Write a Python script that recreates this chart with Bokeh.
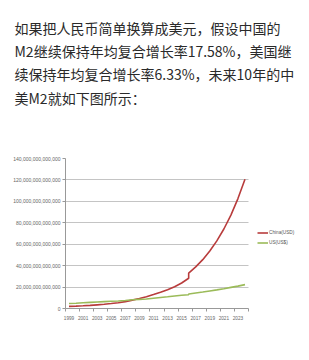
from bokeh.plotting import figure
from bokeh.models import (Range1d, FixedTicker, NumeralTickFormatter, Legend, LegendItem,
                          ColumnDataSource, Title)
from bokeh.embed import file_html
from bokeh.resources import INLINE

# ---- data (USD) ----
years = [1999, 2000, 2001, 2002, 2003, 2004, 2005, 2006, 2007, 2008, 2009, 2010,
         2011, 2012, 2013, 2014, 2015, 2016, 2016, 2017, 2018, 2019, 2020, 2021,
         2022, 2023, 2024]
china_usd = [2.0, 2.2, 2.5, 2.9, 3.4, 3.9, 4.6, 5.4, 6.4, 7.8, 9.3, 11.0,
             13.0, 15.1, 17.6, 20.3, 23.8, 28.2, 33.0, 38.8, 45.6, 53.6, 63.1, 74.2,
             87.2, 102.6, 120.6]
us_usd = [4.6, 4.9, 5.3, 5.7, 6.1, 6.4, 6.7, 7.0, 7.5, 8.1, 8.5, 8.8,
          9.6, 10.3, 10.9, 11.6, 12.3, 12.9, 13.6, 14.5, 15.4, 16.4, 17.4, 18.5,
          19.7, 20.9, 22.3]
series_names = ["China(USD)", "US(US$)"]
y_ticks = [0, 20, 40, 60, 80, 100, 120, 140]  # trillions
x_labels = [1999, 2001, 2003, 2005, 2007, 2009, 2011, 2013, 2015, 2017, 2019, 2021, 2023]

text_lines = [
    "如果把人民币简单换算成美元，假设中国的",
    "M2继续保持年均复合增长率17.58%，美国继",
    "续保持年均复合增长率6.33%，未来10年的中",
    "美M2就如下图所示：",
]

TR = 1e12
X0, X1 = 1998.5, 2024.5          # category span of the axis
PX_PER_YEAR = 183 / (X1 - X0)
X_END = X0 + 244 / PX_PER_YEAR   # frame runs to the right edge so the legend fits inside

p = figure(width=309, height=360, output_backend="svg", toolbar_location=None,
           x_range=Range1d(X0, X_END), y_range=Range1d(0, 140 * TR),
           min_border_left=65, min_border_right=0, min_border_top=158,
           min_border_bottom=52, outline_line_color=None)

src = ColumnDataSource(dict(x=years, c=[v * TR for v in china_usd], u=[v * TR for v in us_usd]))
r1 = p.line("x", "c", source=src, line_color="#b83c3c", line_width=1.6)
r2 = p.line("x", "u", source=src, line_color="#9bbb59", line_width=1.6)

p.xgrid.visible = False
p.ygrid.ticker = FixedTicker(ticks=[v * TR for v in y_ticks])
p.ygrid.grid_line_color = "#c4c4c4"
p.ygrid.grid_line_width = 1
p.ygrid.cross_bounds = (X0, X1)

p.yaxis.ticker = FixedTicker(ticks=[v * TR for v in y_ticks])
p.yaxis.formatter = NumeralTickFormatter(format="0,0")
p.xaxis.ticker = FixedTicker(ticks=x_labels,
                             minor_ticks=[X0 + 2 * i for i in range(14)])
p.xaxis.bounds = (X0, X1)
p.xaxis.major_tick_line_color = None
p.xaxis.major_tick_in = 0
p.xaxis.major_tick_out = 0
p.xaxis.minor_tick_in = 0
p.xaxis.minor_tick_out = 3
p.xaxis.minor_tick_line_color = "#999999"
p.yaxis.minor_tick_line_color = None
p.yaxis.major_tick_in = 0
p.yaxis.major_tick_out = 3
p.yaxis.major_tick_line_color = "#999999"
for ax in (p.xaxis, p.yaxis):
    ax.axis_line_color = "#999999"
    ax.major_label_text_font = "Liberation Sans"
    ax.major_label_text_color = "#666666"
p.yaxis.major_label_text_font_size = "5px"
p.yaxis.major_label_standoff = 2
p.xaxis.major_label_text_font_size = "4.7px"
p.xaxis.major_label_standoff = 4

legend = Legend(items=[LegendItem(label=series_names[0], renderers=[r1]),
                       LegendItem(label=series_names[1], renderers=[r2])],
                location=(192, 62), orientation="vertical",
                glyph_width=11, glyph_height=7, label_height=7, label_standoff=1,
                spacing=3, padding=0, margin=0, border_line_color=None,
                background_fill_alpha=0, label_text_font="Liberation Sans",
                label_text_font_size="4.7px", label_text_color="#555555")
p.add_layout(legend)

# two blank lines at the end keep the paragraph near the top of the page
title = Title(text="\n".join(text_lines + [" ", " "]), align="left", offset=-51,
              vertical_align="top", text_font="Noto Sans CJK SC",
              text_font_size="14px", text_font_style="normal",
              text_color="#2a2a2a", text_line_height=1.174, standoff=4)
p.add_layout(title, "above")

open("out.html", "w").write(file_html(p, INLINE))
